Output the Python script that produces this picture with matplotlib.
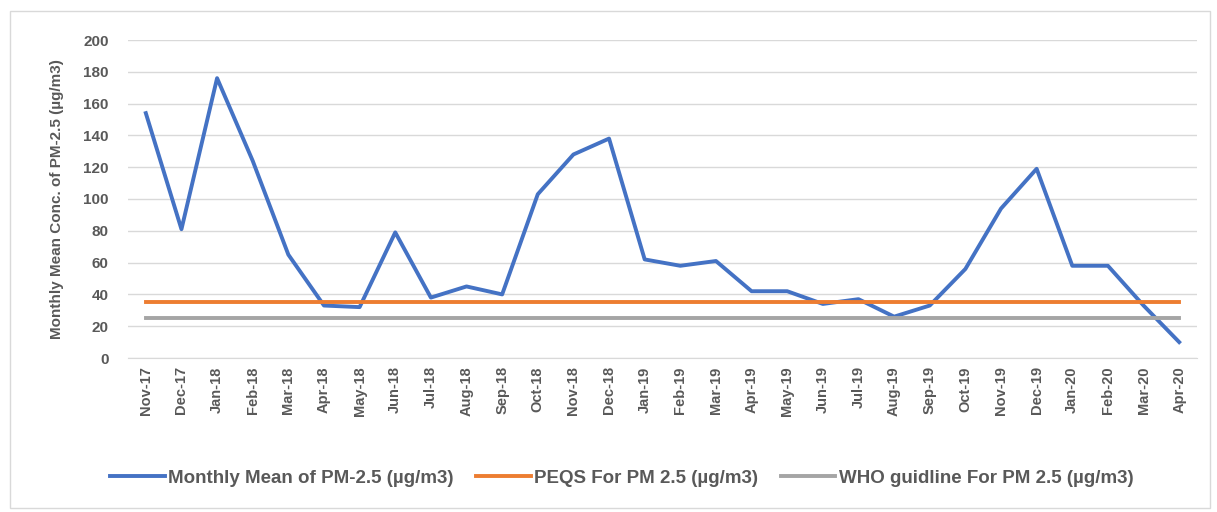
import matplotlib
matplotlib.use("Agg")
import matplotlib.pyplot as plt
from matplotlib.patches import Rectangle

months = ["Nov-17", "Dec-17", "Jan-18", "Feb-18", "Mar-18", "Apr-18", "May-18", "Jun-18",
          "Jul-18", "Aug-18", "Sep-18", "Oct-18", "Nov-18", "Dec-18", "Jan-19", "Feb-19",
          "Mar-19", "Apr-19", "May-19", "Jun-19", "Jul-19", "Aug-19", "Sep-19", "Oct-19",
          "Nov-19", "Dec-19", "Jan-20", "Feb-20", "Mar-20", "Apr-20"]
monthly_mean = [154, 81, 176, 124, 65, 33, 32, 79, 38, 45, 40, 103, 128, 138, 62, 58,
                61, 42, 42, 34, 37, 26, 33, 56, 94, 119, 58, 58, 33, 10]
peqs = [35] * len(months)
who = [25] * len(months)
yticks = [0, 20, 40, 60, 80, 100, 120, 140, 160, 180, 200]

series_labels = ["Monthly Mean of PM-2.5 (µg/m3)", "PEQS For PM 2.5 (µg/m3)",
                 "WHO guidline For PM 2.5 (µg/m3)"]

plt.rcParams['font.family'] = ['Liberation Sans', 'DejaVu Sans']
txt = "#595959"

fig = plt.figure(figsize=(12.17, 5.12), dpi=100)
fig.patches.append(Rectangle((10 / 1217, 4 / 512), 1200 / 1217, 497 / 512,
                             transform=fig.transFigure, fill=False,
                             edgecolor="#D9D9D9", linewidth=1))
ax = fig.add_axes([128 / 1217, 1 - 358 / 512, (1197 - 128) / 1217, (358 - 40) / 512])

x = list(range(len(months)))
ax.plot(x, monthly_mean, color="#4472C4", lw=2.8, label=series_labels[0], solid_joinstyle="round")
ax.plot(x, peqs, color="#ED7D31", lw=2.8, label=series_labels[1])
ax.plot(x, who, color="#A5A5A5", lw=2.8, label=series_labels[2])

ax.set_xlim(-0.5, len(months) - 0.5)
ax.set_ylim(0, 200)
ax.set_yticks(yticks)
ax.set_xticks(x)
ax.set_xticklabels(months, rotation=90, fontsize=10.5, fontweight="bold", color=txt)
ax.tick_params(axis="y", labelsize=11, labelcolor=txt, length=0, pad=14)
for lab in ax.get_yticklabels():
    lab.set_fontweight("bold")
ax.tick_params(axis="x", length=0, pad=6)
ax.grid(axis="y", color="#D9D9D9", lw=1)
ax.set_axisbelow(True)
for s in ["top", "right", "left"]:
    ax.spines[s].set_visible(False)
ax.spines["bottom"].set_color("#D9D9D9")

ax.set_ylabel("Monthly Mean Conc. of PM-2.5 (µg/m3)", fontsize=11, fontweight="bold",
              color=txt, labelpad=14)

leg = fig.legend(loc="center", bbox_to_anchor=(622 / 1217, 1 - 478 / 512), ncol=3, frameon=False,
                 fontsize=13.5, handlelength=2.9, columnspacing=1.2, handletextpad=0.2)
for t in leg.get_texts():
    t.set_color(txt)
    t.set_fontweight("bold")

fig.savefig("out.png", dpi=100)
